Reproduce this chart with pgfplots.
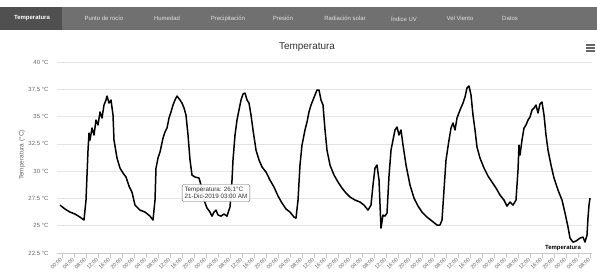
\documentclass[border=0pt]{standalone}
\usepackage{pgfplots}
\pgfplotsset{compat=1.18}
\usepackage{fontspec}
\setmainfont{Liberation Sans}
\definecolor{tabbar}{RGB}{112,112,112}
\definecolor{tabsel}{RGB}{80,80,80}
\definecolor{tabtext}{RGB}{225,225,225}
\definecolor{gridc}{RGB}{228,228,228}
\definecolor{labc}{RGB}{102,102,102}
\definecolor{axc}{RGB}{200,200,200}
\definecolor{titc}{RGB}{51,51,51}
\begin{document}
\begin{tikzpicture}[x=1bp,y=1bp]
\fill[white] (0,0) rectangle (597,273);
\fill[tabbar] (0,243) rectangle (597,266);
\fill[tabsel] (0,243) rectangle (62,266);
\node[text=white, font=\bfseries\fontsize{6}{7}\selectfont] at (32,254.5) {Temperatura};
\foreach \xx/\tt in {104/Punto de rocío,167/Humedad,228/Precipitación,283/Presión,345/Radiación solar,404/Índice UV,460/Vel Viento,510/Datos}
  \node[text=tabtext, font=\fontsize{6}{7}\selectfont] at (\xx,254.5) {\tt};
\node[text=titc, font=\fontsize{10}{12}\selectfont] at (307,226) {Temperatura};
\foreach \yy in {222,225,228} \draw[labc, line width=1.3bp] (586,\yy) -- (595,\yy);
\node[text=labc, rotate=90, font=\fontsize{6.5}{8}\selectfont] at (22,118) {Temperatura (°C)};
\begin{axis}[at={(57bp,20bp)}, anchor=south west, scale only axis,
  width=535bp, height=191bp,
  xmin=-1.67, xmax=176.67, ymin=22.5, ymax=40,
  axis x line=bottom, axis y line=left,
  x axis line style={axc, -, line width=0.7bp},
  y axis line style={draw=none},
  xtick={0,4,...,176},
  xticklabels={00:00,04:00,08:00,12:00,16:00,20:00,00:00,04:00,08:00,12:00,16:00,20:00,00:00,04:00,08:00,12:00,16:00,20:00,00:00,04:00,08:00,12:00,16:00,20:00,00:00,04:00,08:00,12:00,16:00,20:00,00:00,04:00,08:00,12:00,16:00,20:00,00:00,04:00,08:00,12:00,16:00,20:00,00:00,04:00,08:00},
  ytick={22.5,25,27.5,30,32.5,35,37.5,40},
  yticklabels={22.5 °C,25 °C,27.5 °C,30 °C,32.5 °C,35 °C,37.5 °C,40 °C},
  ymajorgrids, major grid style={gridc, line width=0.7bp},
  tick align=outside, major tick length=5bp,
  xtick style={axc, line width=0.7bp},
  ytick style={draw=none},
  xticklabel style={rotate=45, anchor=east, font=\fontsize{5.5}{6}\selectfont, text=labc, inner sep=1pt},
  yticklabel style={font=\fontsize{6}{7}\selectfont, text=labc},
]
\addplot[black, line width=1.5bp, line join=round] coordinates {
(-0.67,26.89) (1.0,26.53) (2.67,26.25) (4.33,26.07) (6.0,25.79) (7.33,25.52) (8.0,27.35) (8.67,31.93)
(9.0,33.49) (9.33,32.85) (10.0,33.95) (10.67,33.31) (11.33,34.68) (12.0,34.23) (12.67,35.42) (13.33,34.87)
(14.0,36.06) (14.67,36.52) (15.0,36.88) (15.67,36.24) (16.33,36.52) (17.0,35.14) (17.33,32.85) (18.33,31.20)
(19.33,30.28) (20.33,29.83) (21.33,29.46) (22.33,28.63) (23.33,28.08) (24.33,26.89) (26.0,26.43) (27.67,26.25)
(29.33,25.88) (30.33,25.52) (31.0,27.35) (31.33,30.28) (32.0,31.20) (32.67,31.75) (33.67,33.03) (34.33,33.58)
(35.0,33.95) (35.67,34.87) (36.33,35.42) (37.0,36.06) (37.67,36.52) (38.33,36.88) (39.33,36.52) (40.0,36.24)
(40.67,35.78) (41.33,35.14) (42.0,33.31) (42.67,31.02) (43.33,29.64) (44.33,29.46) (45.67,29.37) (46.33,28.73)
(47.33,27.35) (48.33,26.62) (49.33,26.25) (50.0,25.88) (50.67,26.25) (51.33,26.43) (52.0,25.98) (53.0,25.88)
(54.0,26.07) (55.0,25.88) (56.0,26.71) (56.67,29.18) (57.0,31.02) (57.67,33.31) (58.33,34.68) (59.0,35.60)
(59.67,36.52) (60.33,37.07) (61.0,37.16) (61.67,36.52) (62.33,36.24) (63.0,35.14) (63.67,33.77) (64.67,31.93)
(65.67,31.02) (66.67,30.38) (68.0,29.92) (69.33,29.18) (70.67,28.54) (72.0,27.72) (73.33,27.08) (74.67,26.53)
(76.0,26.25) (77.33,25.79) (78.0,25.70) (78.67,27.35) (79.33,30.56) (80.0,32.39) (81.0,33.77) (81.67,34.50)
(82.33,35.42) (83.0,36.06) (83.67,36.52) (84.33,36.98) (85.0,37.43) (85.67,37.43) (86.33,36.52) (87.0,36.06)
(87.67,33.77) (88.33,31.93) (89.33,30.56) (90.67,29.64) (92.0,29.00) (93.33,28.45) (94.67,27.99) (96.0,27.63)
(97.67,27.35) (99.33,27.17) (100.67,26.89) (102.0,26.43) (103.0,26.89) (103.67,28.73) (104.33,30.28) (105.0,30.56)
(105.67,29.18) (106.33,24.78) (107.0,25.98) (107.67,25.88) (108.33,26.16) (109.0,29.55) (109.67,31.93) (110.33,32.85)
(111.0,33.77) (111.67,34.04) (112.33,33.31) (113.0,33.77) (113.67,32.39) (114.67,30.56) (116.0,28.73) (117.33,27.53)
(118.67,26.80) (120.0,26.25) (121.67,25.79) (123.33,25.43) (125.0,25.06) (126.0,25.06) (126.67,25.52) (127.33,28.27)
(128.0,31.02) (129.0,32.85) (129.67,33.95) (130.33,34.41) (131.0,33.77) (131.67,34.87) (132.67,35.60) (133.67,36.24)
(134.33,36.79) (135.0,37.62) (135.67,37.80) (136.33,36.98) (137.0,35.14) (137.67,33.77) (138.33,32.21) (139.33,31.20)
(140.67,30.28) (142.0,29.55) (143.33,29.00) (144.67,28.45) (146.0,27.81) (147.33,27.35) (148.33,26.80) (149.33,27.17)
(150.33,26.89) (151.33,27.35) (152.0,30.10) (152.33,32.39) (152.67,31.48) (153.33,32.85) (154.0,33.95) (154.67,34.23)
(155.33,34.68) (156.0,34.96) (156.67,35.60) (157.33,35.78) (158.0,36.06) (158.67,35.33) (159.33,36.15) (160.0,36.33)
(160.67,35.14) (161.33,33.31) (162.0,31.93) (163.0,30.56) (164.0,29.37) (165.33,28.27) (166.67,27.35) (167.67,26.16)
(168.67,24.88) (169.33,23.87) (170.33,23.50) (171.33,23.59) (172.67,23.87) (173.67,23.96) (174.33,23.50) (175.0,24.14)
(175.33,25.70) (175.67,26.89) (176.0,27.53)
};
\node[font=\bfseries\fontsize{6}{7}\selectfont, inner sep=0pt] at (axis cs:167,22.95) {Temperatura};
\end{axis}
\node[draw=labc, fill=white, fill opacity=0.92, text opacity=1, rounded corners=2bp, align=left,
  font=\fontsize{6.3}{7.6}\selectfont, inner sep=2.5bp, text=titc] at (216,80)
  {Temperatura: 26.1°C\\21-Dic-2019 03:00 AM};
\pgfresetboundingbox
\useasboundingbox (0,0) rectangle (597,273);
\end{tikzpicture}
\end{document}
